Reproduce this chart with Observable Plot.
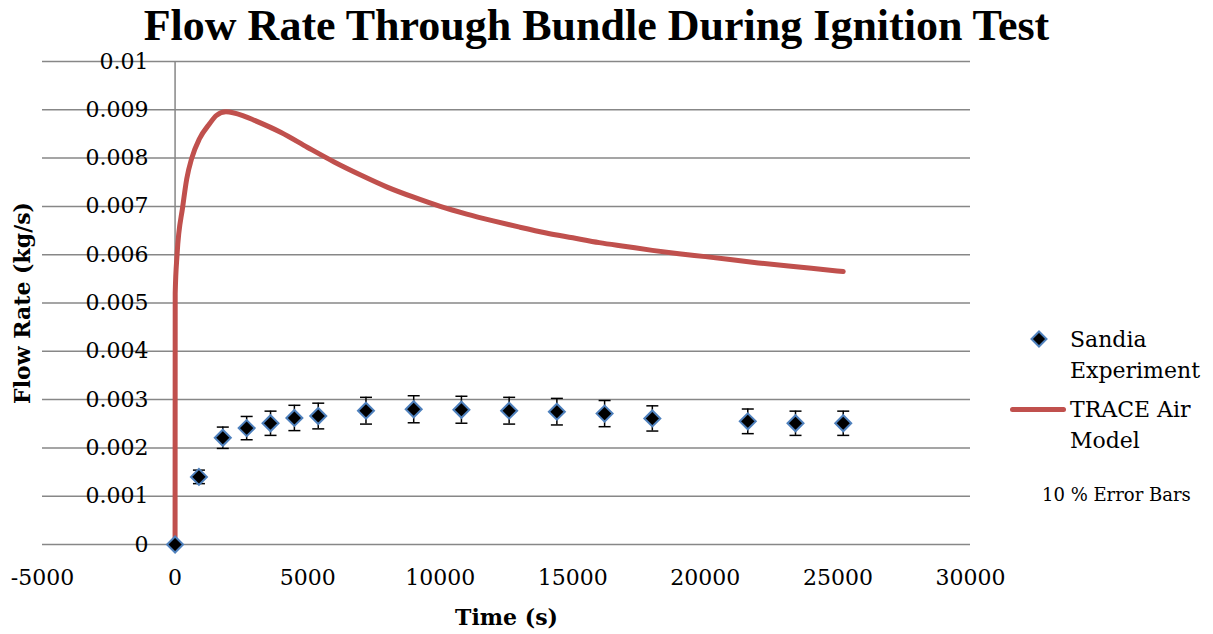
<!DOCTYPE html>
<html>
<head>
<meta charset="utf-8">
<script src="https://cdn.jsdelivr.net/npm/d3@7"></script>
<script src="https://cdn.jsdelivr.net/npm/@observablehq/plot@0.6"></script>
<style>
  html, body { margin: 0; padding: 0; background: #fff; }
  #wrap { position: relative; width: 1213px; height: 634px; overflow: hidden; background: #fff; }
  #title { position: absolute; left: 0; top: 0; width: 1193px; height: 50px; line-height: normal;
           text-align: center; font-family: "Liberation Serif", serif; font-weight: bold; font-size: 44px; color: #000; }
  #chart { position: absolute; left: 0; top: 50px; }
  .lg { position: absolute; font-family: "DejaVu Serif", serif; color: #000; white-space: nowrap; }
  .lg22 { font-size: 22px; line-height: 31px; }
  .lg18 { font-size: 18px; line-height: 22px; }
</style>
</head>
<body>
<div id="wrap">
  <div id="title">Flow Rate Through Bundle During Ignition Test</div>
  <div id="chart"></div>
  <svg class="lg" style="left:1028px;top:328px" width="22" height="22" viewBox="-11 -11 22 22">
    <path d="M0,-7.5L7.5,0L0,7.5L-7.5,0Z" fill="#000" stroke="#4f81bd" stroke-width="2"/>
  </svg>
  <div class="lg lg22" style="left:1070px;top:324px">Sandia<br>Experiment</div>
  <div class="lg" style="left:1010px;top:406.5px;width:56px;height:5px;background:#c0504d;border-radius:2.5px"></div>
  <div class="lg lg22" style="left:1070px;top:394px">TRACE Air<br>Model</div>
  <div class="lg lg18" style="left:1042px;top:484px">10 % Error Bars</div>
</div>
<script>
// Experimental data (Sandia)
const expTime = [0, 900, 1800, 2700, 3600, 4500, 5400, 7200, 9000, 10800, 12600, 14400, 16200, 18000, 21600, 23400, 25200];
const expFlow = [0, 0.0014, 0.00221, 0.00241, 0.00251, 0.00262, 0.00266, 0.00277, 0.0028, 0.00279, 0.00277, 0.00275, 0.00271, 0.00261, 0.00255, 0.00251, 0.00251];
const errorFraction = 0.10;

// TRACE Air Model
const modelTime = [0, 5, 75, 290, 440, 630, 920, 1300, 1550, 1920, 2600, 3000, 4000, 5000, 6000, 7000, 8000, 9000, 10000, 11000, 12000, 13000, 14000, 15000, 16000, 17000, 18000, 19000, 20000, 22000, 24000, 25200];
const modelFlow = [0, 0.0052, 0.006, 0.007, 0.00757, 0.008, 0.0084, 0.00871, 0.00888, 0.00896, 0.00887, 0.00878, 0.00853, 0.00822, 0.00792, 0.00765, 0.0074, 0.00719, 0.007, 0.00684, 0.0067, 0.00657, 0.00645, 0.00635, 0.00625, 0.00617, 0.00609, 0.00602, 0.00596, 0.00583, 0.00572, 0.00565];

// Axis ticks
const xTicks = [-5000, 0, 5000, 10000, 15000, 20000, 25000, 30000];
const yTicks = [0, 0.001, 0.002, 0.003, 0.004, 0.005, 0.006, 0.007, 0.008, 0.009, 0.01];

const exp = expTime.map((t, i) => ({t, f: expFlow[i]}));
const model = modelTime.map((t, i) => ({t, f: modelFlow[i]}));

const capSymbol = {
  draw(context, size) {
    const w = Math.sqrt(size / Math.PI);
    context.moveTo(-w, 0);
    context.lineTo(w, 0);
  }
};

const chart = Plot.plot({
  width: 1213,
  height: 584,
  marginTop: 11,
  marginBottom: 90,
  marginLeft: 42,
  marginRight: 243,
  style: {fontFamily: "'DejaVu Serif', serif", fontSize: "22px", color: "#000", background: "transparent"},
  x: {domain: [-5000, 30000]},
  y: {domain: [0, 0.01]},
  marks: [
    Plot.ruleY(yTicks, {stroke: "#878787", strokeWidth: 1.5}),
    Plot.ruleX([0], {stroke: "#878787", strokeWidth: 1.5}),
    Plot.axisX(xTicks, {tickSize: 0, tickPadding: 25, tickFormat: d => String(d), label: null, fontSize: 22}),
    Plot.axisY(yTicks, {tickSize: 0, tickPadding: 0, dx: 106, tickFormat: d => String(d), label: null, fontSize: 22}),
    Plot.line(model, {x: "t", y: "f", stroke: "#c0504d", strokeWidth: 5, strokeLinecap: "round", strokeLinejoin: "round", curve: "monotone-x"}),
    Plot.ruleX(exp, {x: "t", y1: d => d.f * (1 - errorFraction), y2: d => d.f * (1 + errorFraction), stroke: "#000", strokeWidth: 1.5}),
    Plot.dot(exp, {x: "t", y: d => d.f * (1 + errorFraction), symbol: capSymbol, r: 6, stroke: "#000", strokeWidth: 1.5}),
    Plot.dot(exp, {x: "t", y: d => d.f * (1 - errorFraction), symbol: capSymbol, r: 6, stroke: "#000", strokeWidth: 1.5}),
    Plot.dot(exp, {x: "t", y: "f", symbol: "diamond2", r: 7.2, fill: "#000", stroke: "#4f81bd", strokeWidth: 2}),
    Plot.text(["Time (s)"], {text: d => d, frameAnchor: "bottom", textAnchor: "middle", lineAnchor: "middle", dy: 73, fontWeight: "bold", fontSize: 22}),
    Plot.text(["Flow Rate (kg/s)"], {text: d => d, frameAnchor: "left", textAnchor: "middle", lineAnchor: "middle", dx: -20, rotate: -90, fontWeight: "bold", fontSize: 22})
  ]
});
document.getElementById("chart").appendChild(chart);
</script>
</body>
</html>
